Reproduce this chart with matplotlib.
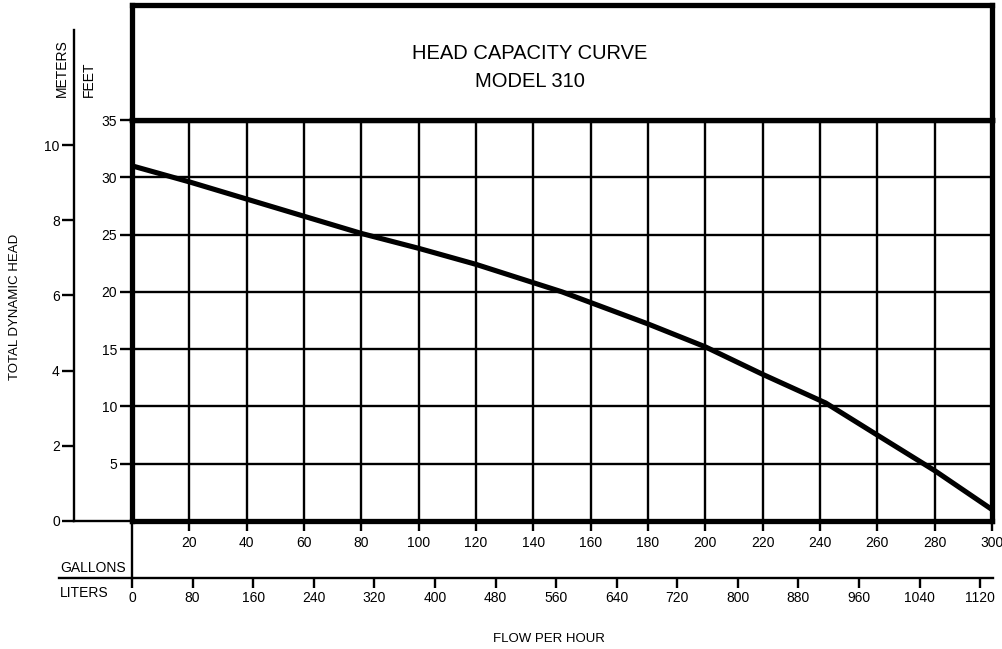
import matplotlib
matplotlib.use("Agg")
import matplotlib.pyplot as plt
from matplotlib.lines import Line2D

plt.rcParams['font.family'] = ['Liberation Sans', 'DejaVu Sans']

# ---- data ----
gallons = [0, 20, 40, 60, 80, 100, 120, 150, 180, 200, 220, 242, 260, 280, 300]
head_ft = [31.0, 29.6, 28.1, 26.6, 25.1, 23.8, 22.4, 20.0, 17.2, 15.2, 12.8, 10.3, 7.5, 4.4, 1.0]
gallon_ticks = list(range(20, 301, 20))
feet_ticks = list(range(5, 36, 5))
meter_ticks = list(range(0, 11, 2))
liter_ticks = list(range(0, 1121, 80))
title_lines = ["HEAD CAPACITY CURVE", "MODEL 310"]
GAL_MAX, FT_MAX = 300, 35
FT_TO_M = 0.3048
GAL_TO_L = 3.78541

W, H = 1003, 649
def fx(px):
    return px / W
def fy(py):
    return 1 - py / H

fig = plt.figure(figsize=(W / 100, H / 100), dpi=100)

# layout (pixels)
L, R, T35, B0, TOP = 132, 992, 120, 521, 5
THICK = 3.8
THIN = 1.7

# main chart
ax = fig.add_axes([fx(L), fy(B0), (R - L) / W, (B0 - T35) / H])
ax.set_xlim(0, GAL_MAX)
ax.set_ylim(0, FT_MAX)
ax.set_xticks(gallon_ticks)
ax.set_xticklabels([str(g) for g in gallon_ticks])
ax.set_yticks(feet_ticks)
ax.set_yticklabels([str(f) for f in feet_ticks])
ax.grid(True, color='black', lw=THIN)
ax.set_axisbelow(True)
for s in ax.spines.values():
    s.set_linewidth(THICK)
ax.tick_params(axis='x', direction='out', length=7.5, width=THIN, pad=3, labelsize=10)
ax.tick_params(axis='y', direction='out', length=8.6, width=THIN, pad=2, labelsize=10)
ax.plot(gallons, head_ft, color='black', lw=3.7, solid_capstyle='butt',
        solid_joinstyle='miter', zorder=3)

# title box
tax = fig.add_axes([fx(L), fy(T35), (R - L) / W, (T35 - TOP) / H])
tax.set_xticks([])
tax.set_yticks([])
for s in tax.spines.values():
    s.set_linewidth(THICK)
fig.text(fx(530), fy(59), title_lines[0], ha='center', va='baseline', fontsize=14.5)
fig.text(fx(530), fy(87), title_lines[1], ha='center', va='baseline', fontsize=14.5)

# meters axis
MX, MTOP = 74.5, 30
mx = fig.add_axes([fx(MX), fy(B0), 1e-6, (B0 - MTOP) / H])
mx.set_ylim(0, FT_MAX * FT_TO_M * (B0 - MTOP) / (B0 - T35))
mx.patch.set_visible(False)
for k in ('right', 'top', 'bottom'):
    mx.spines[k].set_visible(False)
mx.spines['left'].set_linewidth(THIN)
mx.set_xticks([])
mx.set_yticks(meter_ticks)
mx.set_yticklabels([str(m) for m in meter_ticks])
mx.tick_params(axis='y', direction='out', length=8.6, width=THIN, pad=2, labelsize=10)

# line joining meters zero to chart
fig.add_artist(Line2D([fx(MX), fx(L)], [fy(B0), fy(B0)], color='black', lw=THIN))

# liters axis
LY = 578
lx = fig.add_axes([fx(L), fy(LY), (R - L) / W, 1e-6])
lx.set_xlim(0, GAL_MAX * GAL_TO_L)
lx.patch.set_visible(False)
for k in ('left', 'right', 'top', 'bottom'):
    lx.spines[k].set_visible(False)
lx.set_yticks([])
lx.set_xticks(liter_ticks)
lx.set_xticklabels([str(v) for v in liter_ticks])
lx.tick_params(axis='x', direction='out', length=7.0, width=THIN, pad=2, labelsize=10)
fig.add_artist(Line2D([fx(59), fx(R + 1)], [fy(LY), fy(LY)], color='black', lw=THIN))
fig.add_artist(Line2D([fx(L), fx(L)], [fy(B0), fy(LY)], color='black', lw=THIN))

# labels
fig.text(fx(60), fy(571.5), "GALLONS", ha='left', va='baseline', fontsize=10)
fig.text(fx(60), fy(597), "LITERS", ha='left', va='baseline', fontsize=10)
fig.text(fx(549), fy(642), "FLOW PER HOUR", ha='center', va='baseline', fontsize=9.5)
fig.text(fx(15), fy(307), "TOTAL DYNAMIC HEAD", rotation=90, ha='center', va='center', fontsize=9.5)
fig.text(fx(62), fy(97), "METERS", rotation=90, ha='center', va='bottom', fontsize=10)
fig.text(fx(89), fy(97), "FEET", rotation=90, ha='center', va='bottom', fontsize=10)

fig.savefig("out.png", dpi=100)
